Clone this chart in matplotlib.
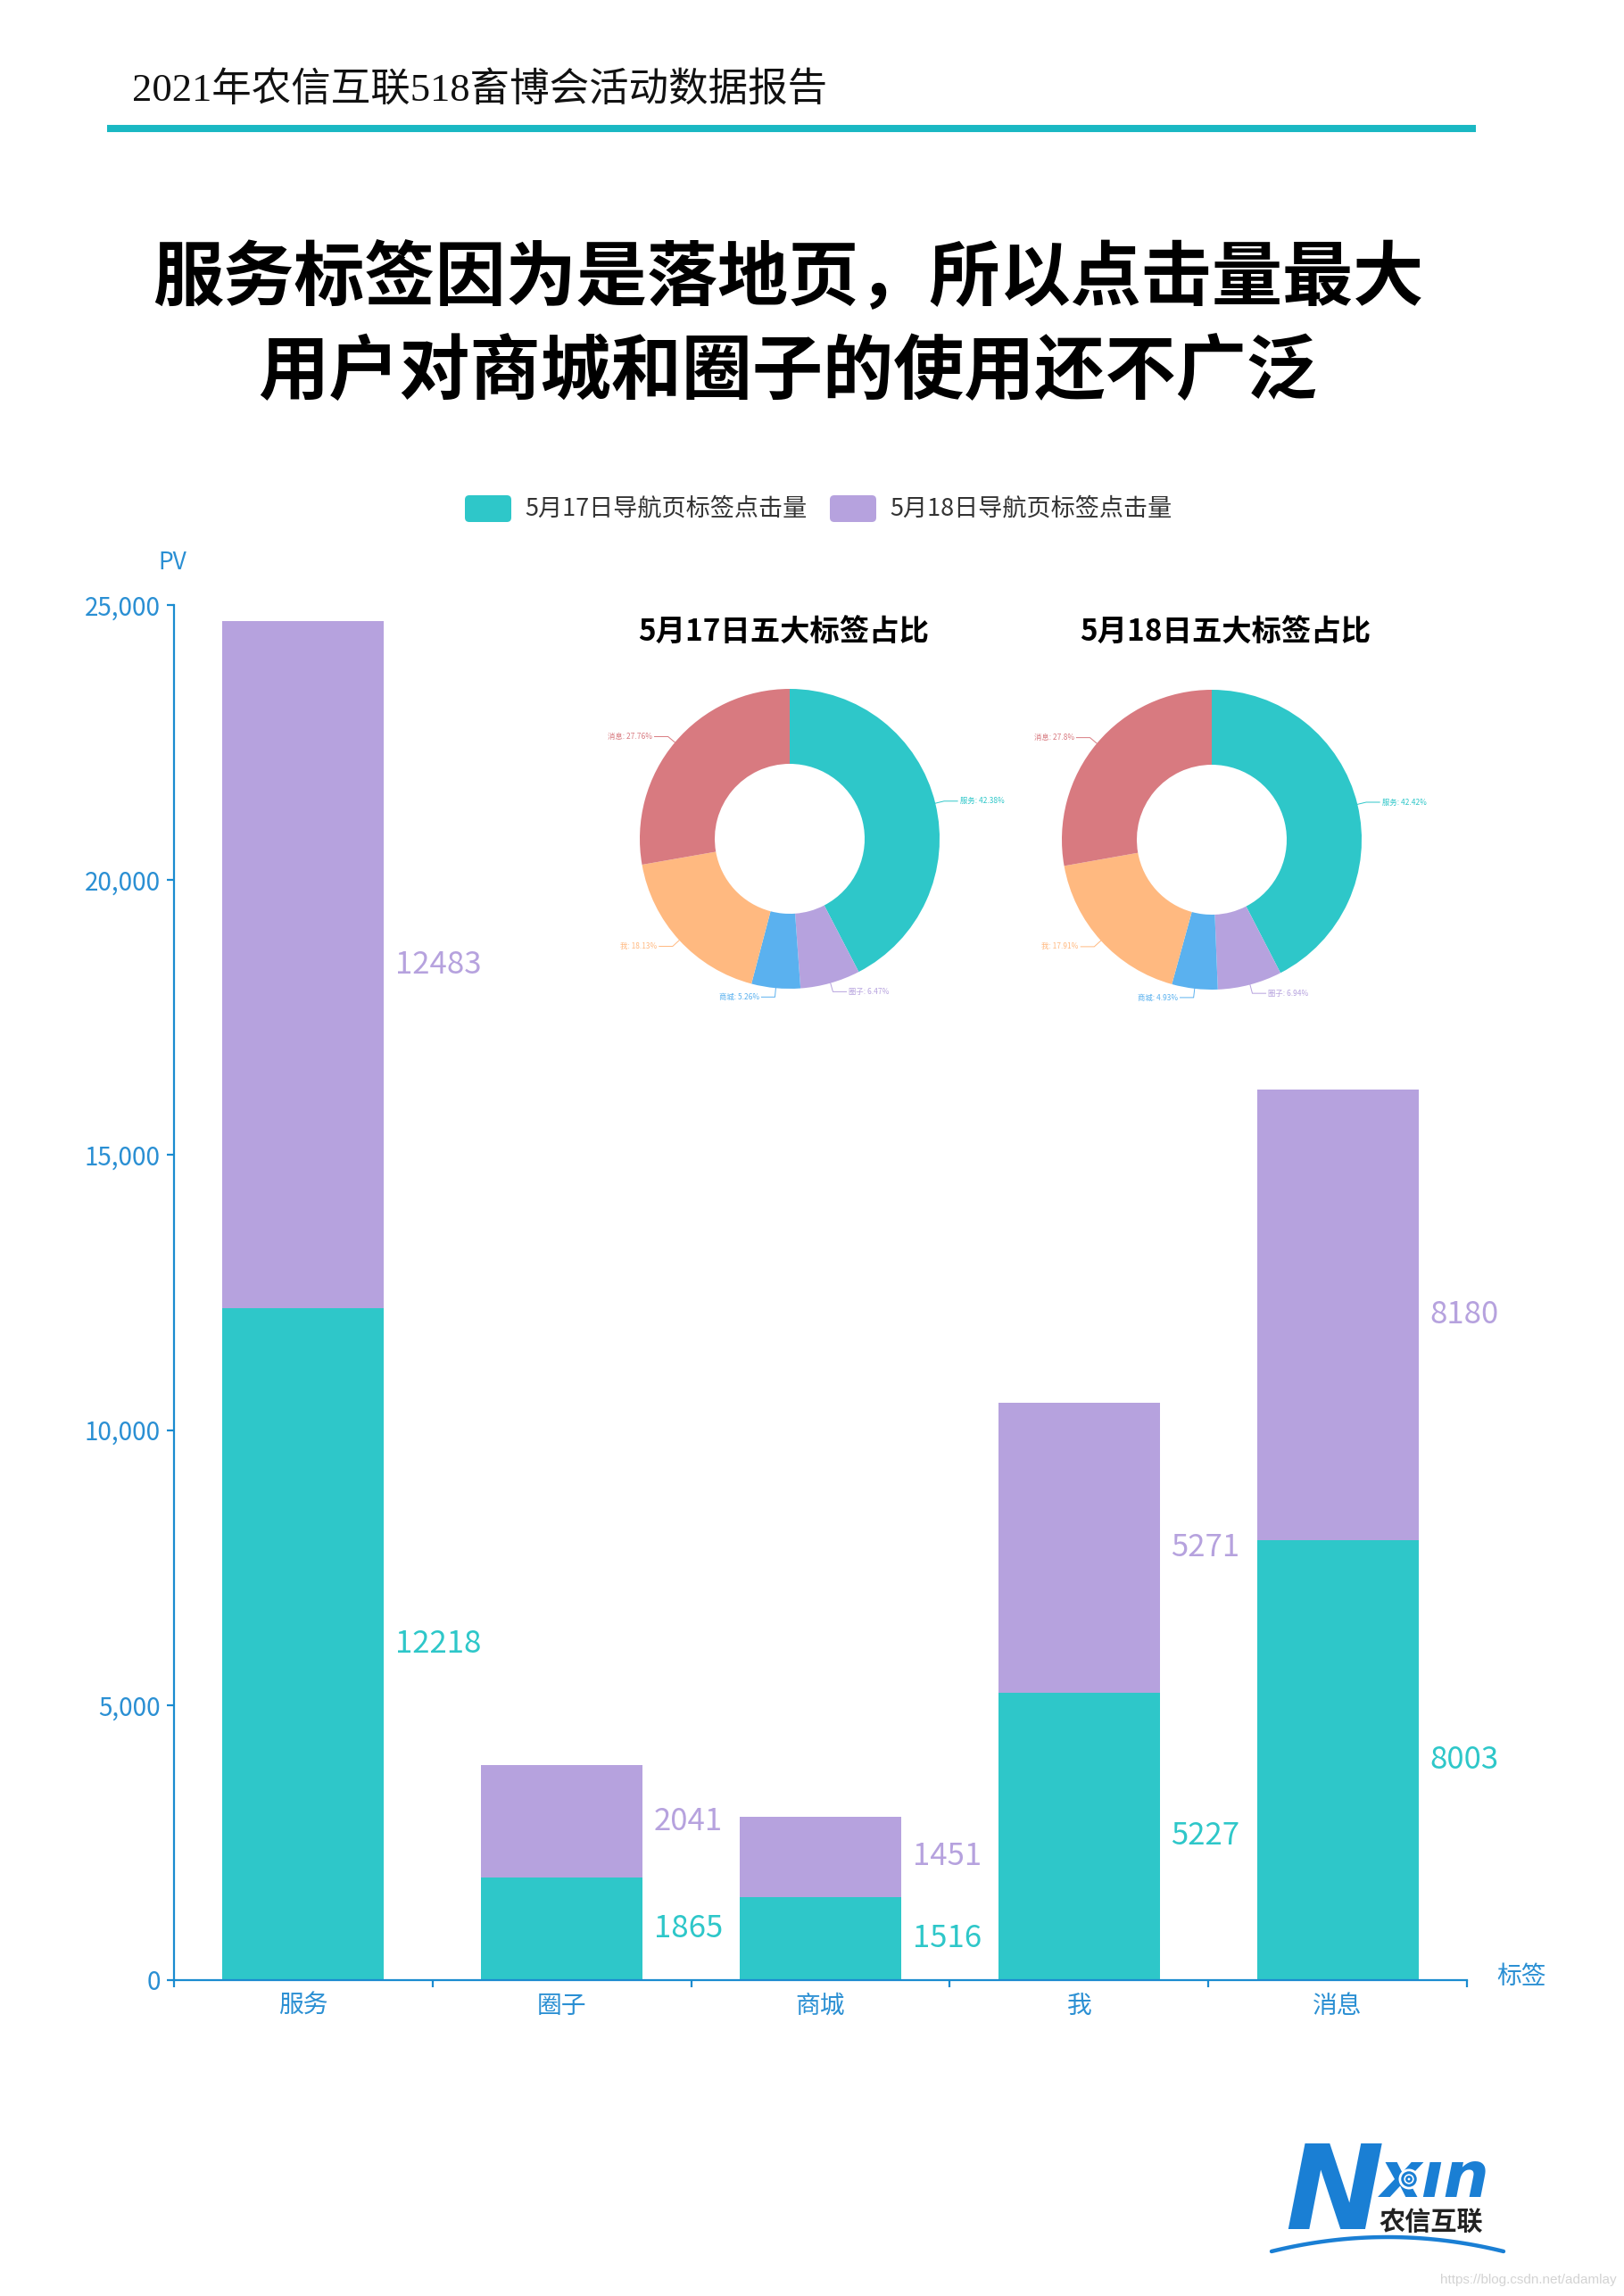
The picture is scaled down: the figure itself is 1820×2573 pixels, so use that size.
import numpy as np
import matplotlib
matplotlib.use("Agg")
import matplotlib.pyplot as plt
from matplotlib.patches import FancyBboxPatch, Circle

plt.rcParams['font.family'] = ['Noto Sans CJK SC', 'DejaVu Sans']

# ---------------- data ----------------
categories = ['服务', '圈子', '商城', '我', '消息']
series_names = ['5月17日导航页标签点击量', '5月18日导航页标签点击量']
values_0517 = [12218, 1865, 1516, 5227, 8003]
values_0518 = [12483, 2041, 1451, 5271, 8180]
y_ticks = [0, 5000, 10000, 15000, 20000, 25000]
pie_titles = ['5月17日五大标签占比', '5月18日五大标签占比']
header_text = '2021年农信互联518畜博会活动数据报告'
title_lines = ['服务标签因为是落地页，所以点击量最大', '用户对商城和圈子的使用还不广泛']

# ---------------- styles ----------------
TEAL = '#2ec7c9'
PURPLE = '#b6a2de'
pie_colors = ['#2ec7c9', '#b6a2de', '#5ab1ef', '#ffb980', '#d87a80']
AXIS = '#1a8bd0'
LABEL = '#2a8fd3'

W, H = 1820, 2573
fig = plt.figure(figsize=(W / 100, H / 100), dpi=100)
fig.patch.set_facecolor('white')


def px_axes(x0, y0, x1, y1, **kw):
    return fig.add_axes([x0 / W, 1 - y1 / H, (x1 - x0) / W, (y1 - y0) / H], **kw)


# overlay axes in pixel coordinates
ov = px_axes(0, 0, W, H)
ov.set_xlim(0, W)
ov.set_ylim(H, 0)
ov.axis('off')

# header
ov.text(148, 102, header_text, ha='left', va='center', fontsize=32,
        family=['Liberation Serif', 'Noto Sans CJK SC'], fontweight='light', color='#111111')
ov.plot([120, 1654], [144, 144], color='#1ab8c3', lw=5.8, solid_capstyle='butt')

# main title
ov.text(883, 313, title_lines[0], ha='center', va='center', fontsize=57, fontweight='bold', color='#000000')
ov.text(883, 418, title_lines[1], ha='center', va='center', fontsize=57, fontweight='bold', color='#000000')

# legend
leg_x = [521, 930]
for lx, name, col in zip(leg_x, series_names, [TEAL, PURPLE]):
    ov.add_patch(FancyBboxPatch((lx + 5, 560), 42, 20, boxstyle='round,pad=5',
                                facecolor=col, edgecolor='none'))
    ov.text(lx + 67, 570, name, ha='left', va='center', fontsize=19.5, color='#333333')

# ---------------- bar chart ----------------
ax = px_axes(195, 678, 1644, 2219)
x = np.arange(len(categories))
bw = 0.625
ax.bar(x, values_0517, width=bw, color=TEAL, zorder=2)
ax.bar(x, values_0518, width=bw, bottom=values_0517, color=PURPLE, zorder=2)

for i in range(len(categories)):
    ax.annotate(str(values_0517[i]), xy=(x[i] + bw / 2, values_0517[i] / 2),
                xytext=(9, 0), textcoords='offset points', ha='left', va='center',
                fontsize=25, color=TEAL, annotation_clip=False)
    ax.annotate(str(values_0518[i]), xy=(x[i] + bw / 2, values_0517[i] + values_0518[i] / 2),
                xytext=(9, 0), textcoords='offset points', ha='left', va='center',
                fontsize=25, color=PURPLE, annotation_clip=False)

ax.set_xlim(-0.5, len(categories) - 0.5)
ax.set_ylim(0, 25000)
ax.set_facecolor('none')
for s in ['top', 'right']:
    ax.spines[s].set_visible(False)
for s in ['left', 'bottom']:
    ax.spines[s].set_color(AXIS)
    ax.spines[s].set_linewidth(1.6)

ax.set_yticks(y_ticks)
ax.set_yticklabels([f'{v:,}' for v in y_ticks])
ax.tick_params(axis='y', colors=AXIS, labelcolor=LABEL, length=6, width=1.6, pad=5, labelsize=20)
ax.set_xticks(x)
ax.set_xticklabels(categories)
ax.tick_params(axis='x', which='major', length=0, pad=10, labelsize=20, labelcolor=LABEL)
ax.set_xticks(np.arange(-0.5, len(categories)), minor=True)
ax.tick_params(axis='x', which='minor', length=6, width=1.6, colors=AXIS, direction='out')

ov.text(177, 630, 'PV', ha='left', va='center', fontsize=19, color=LABEL)
ov.text(1677, 2215, '标签', ha='left', va='center', fontsize=20, color=LABEL)

# ---------------- pies ----------------
R = 168.0
pie_centers = [(885, 940), (1358, 941)]
title_pos = [(878, 709), (1373, 709)]
half = 230
for (cx, cy), (tx, ty), vals, ttl in zip(pie_centers, title_pos, [values_0517, values_0518], pie_titles):
    pax = px_axes(cx - half, cy - half, cx + half, cy + half)
    lim = half / R
    wedges, _ = pax.pie(vals, colors=pie_colors, startangle=90, counterclock=False,
                        radius=1.0, wedgeprops=dict(width=0.5, edgecolor='none'))
    pax.set_xlim(-lim, lim)
    pax.set_ylim(-lim, lim)
    pax.set_aspect('equal')
    pax.axis('off')
    total = sum(vals)
    for wdg, name, v, col in zip(wedges, categories, vals, pie_colors):
        mid = np.deg2rad((wdg.theta1 + wdg.theta2) / 2)
        c, s = np.cos(mid), np.sin(mid)
        p0 = (c * 1.0, s * 1.0)
        p1 = (c * 1.06, s * 1.06)
        sign = 1 if c >= 0 else -1
        p2 = (p1[0] + sign * 0.09, p1[1])
        pax.plot([p0[0], p1[0], p2[0]], [p0[1], p1[1], p2[1]], color=col, lw=0.7)
        pct = round(v / total * 100, 2)
        pax.text(p2[0] + sign * 0.015, p2[1], f'{name}: {pct:g}%', ha='left' if sign > 0 else 'right',
                 va='center', fontsize=6, color=col)
    ov.text(tx, ty, ttl, ha='center', va='center', fontsize=24, fontweight='bold', color='#000000')

# ---------------- logo ----------------
BLUE = '#1a7fd4'
ov.text(1440, 2498, 'N', ha='left', va='baseline', fontsize=95, family='DejaVu Sans',
        fontweight='bold', style='italic', color=BLUE)
ov.text(1547, 2462, 'xın', ha='left', va='baseline', fontsize=52, family='DejaVu Sans',
        fontweight='bold', style='italic', color=BLUE)
ov.add_patch(Circle((1579, 2442), 11.5, facecolor='white', edgecolor='none', zorder=5))
ov.add_patch(Circle((1579, 2442), 7.2, facecolor='none', edgecolor=BLUE, lw=2.2, zorder=6))
ov.add_patch(Circle((1579, 2442), 2.7, facecolor='none', edgecolor=BLUE, lw=1.8, zorder=6))
ov.text(1546, 2500, '农信互联', ha='left', va='baseline', fontsize=21, fontweight='bold',
        color='#222222')
arc_x = np.linspace(1425, 1685, 100)
arc_y = 2523 - 16 * (1 - ((arc_x - 1555) / 130) ** 2)
ov.plot(arc_x, arc_y, color=BLUE, lw=3.2, solid_capstyle='round')
ov.text(1812, 2555, 'https://blog.csdn.net/adamlay', ha='right', va='center', fontsize=11,
        family='Liberation Sans', color='#d3d3d3')

fig.savefig('out.png', dpi=100, facecolor='white')
